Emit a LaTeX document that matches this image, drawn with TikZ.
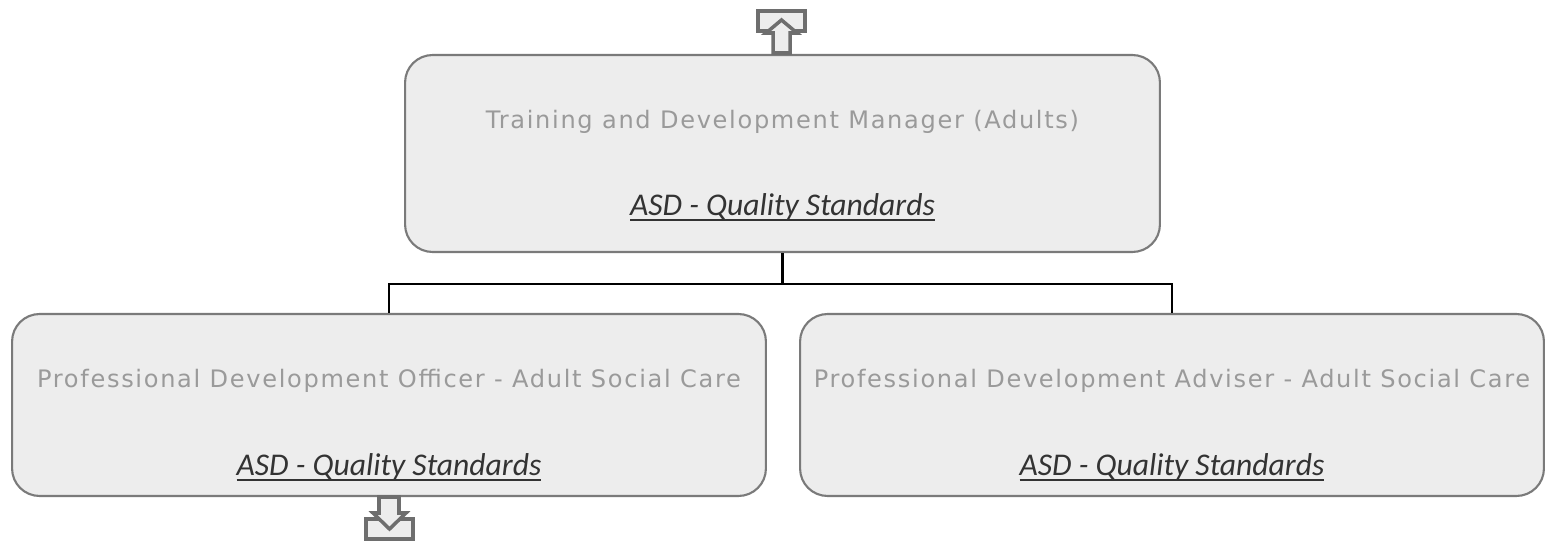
\documentclass[tikz,border=0pt]{standalone}
\usepackage{fontspec}
\setmainfont{Carlito}
\newfontfamily\titlefont[LetterSpace=7]{DejaVu Sans}
\usetikzlibrary{positioning, calc}

\definecolor{boxfill}{HTML}{EDEDED}
\definecolor{boxline}{HTML}{7A7A7A}
\definecolor{titlegray}{HTML}{9A9A9A}
\definecolor{linkgray}{HTML}{333333}
\definecolor{icongray}{HTML}{6E6E6E}

% underlined link text
\newcommand{\linktext}[1]{\setbox0\hbox{#1}\rlap{\rule[-3.2pt]{\wd0}{0.9pt}}\box0}

\begin{document}
\begin{tikzpicture}[
            x=0.02cm, y=-0.02cm,
            every node/.style={align=center},
            postbox/.style={draw=boxline, line width=1.2pt, fill=boxfill,
                rounded corners=0.55cm, inner sep=0pt, minimum height=3.64cm},
            posttitle/.style={font=\titlefont\fontsize{13.7}{15}\selectfont, text=titlegray},
            postlink/.style={font=\itshape\fontsize{18}{20}\selectfont, text=linkgray},
            link/.style={line width=1.3pt, black},
            navicon/.style={draw=icongray, line width=2pt, fill=boxfill, line join=miter}
        ]

        % Page frame
        \useasboundingbox (0,0) rectangle (1545,541);

        % Vertical placement of rows
        \def\ytop{153.5}   % Manager row
        \def\ychild{405}   % Officer / Adviser row
        \def\ybus{284}     % Horizontal connector

        % --- Boxes ---
        \node[postbox, minimum width=15.1cm, minimum height=3.94cm] (tdm) at (782.5, \ytop) {};
        \node[postbox, minimum width=15.08cm] (pdo) at (389, \ychild) {};
        \node[postbox, minimum width=14.88cm] (pda) at (1172, \ychild) {};

        % --- Texts ---
        \node[posttitle] (tdmt) at (782.5, 122) {Training and Development Manager (Adults)};
        \node[postlink] (tdml) at (782.5, 207) {\linktext{ASD - Quality Standards}};

        \node[posttitle] (pdot) at (389, 381) {Professional Development Officer - Adult Social Care};
        \node[postlink] (pdol) at (389, 467) {\linktext{ASD - Quality Standards}};

        \node[posttitle] (pdat) at (1172, 381) {Professional Development Adviser - Adult Social Care};
        \node[postlink] (pdal) at (1172, 467) {\linktext{ASD - Quality Standards}};

        % --- Connectors ---
        \coordinate (bus) at (782.5, \ybus);
        \draw[link] (tdm.south) -- (bus);
        \draw[link] (bus) -| (pdo.north);
        \draw[link] (bus) -| (pda.north);

        % --- Navigation icons ---
        \draw[navicon] (758,11) rectangle (805,31);
        \draw[navicon] (773,53) -- (773,33) -- (766,33) -- (781.5,20) -- (797,33) -- (790,33) -- (790,53) -- cycle;

        \draw[navicon] (366,519) rectangle (413,539);
        \draw[navicon] (379,497) -- (379,513) -- (373,513) -- (389.5,529) -- (406,513) -- (399,513) -- (399,497) -- cycle;

\end{tikzpicture}
\end{document}
